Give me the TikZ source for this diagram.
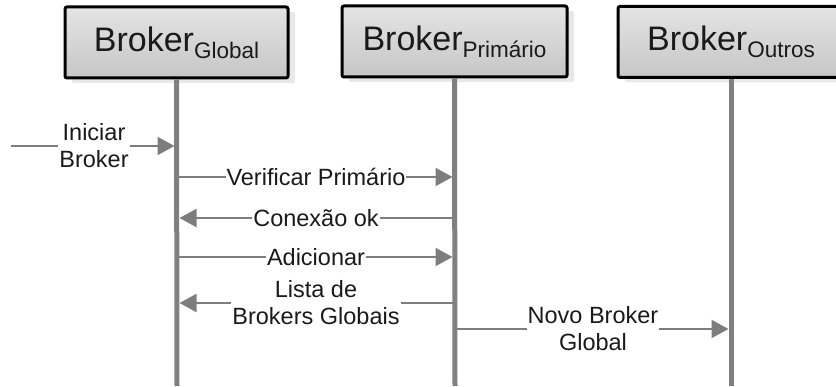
\documentclass[tikz,border=0pt]{standalone}
\usepackage{fontspec}
\setmainfont{Liberation Sans}
\usetikzlibrary{arrows.meta,shadows}
\definecolor{lifegray}{RGB}{128,128,128}
\definecolor{msggray}{RGB}{125,125,125}
\definecolor{boxtop}{RGB}{228,228,228}
\definecolor{boxbot}{RGB}{198,198,198}
\definecolor{shadowgray}{RGB}{232,232,232}
\definecolor{inkgray}{RGB}{26,26,26}
\tikzset{
  actor/.style={draw=black, line width=3pt, rounded corners=2pt,
    top color=boxtop, bottom color=boxbot,
    minimum height=71pt, inner sep=0pt, text=inkgray,
    drop shadow={shadow xshift=7pt, shadow yshift=-5pt, fill=shadowgray, opacity=1}},
  lifeline/.style={draw=lifegray, line width=5pt},
  msg/.style={draw=msggray, line width=2pt,
    -{Triangle[length=17pt,width=18pt]}, shorten >=2.5pt},
  msglabel/.style={fill=white, inner xsep=1pt, inner ysep=0pt, align=center,
    text=inkgray, font=\fontsize{23.5}{27}\selectfont}
}
\newcommand{\actorname}[1]{\fontsize{34}{38}\selectfont Broker\raisebox{-7pt}{\fontsize{22.5}{26}\selectfont #1}}
\begin{document}
\begin{tikzpicture}[x=1pt, y=-1pt]
  \useasboundingbox (0,0) rectangle (836,387);
  \fill[white] (0,0) rectangle (836,387);

  % participants
  \node[actor, minimum width=223pt] (gbl) at (176.5,42.5) {\actorname{Global}};
  \node[actor, minimum width=225pt] (pri) at (454.5,41.5) {\actorname{Primário}};
  \node[actor, minimum width=226pt] (out) at (731,42) {\actorname{Outros}};

  % lifeline ends
  \coordinate (gblEnd) at (177,386);
  \coordinate (priEnd) at (455,386);
  \coordinate (outEnd) at (731,386);

  % message anchor points on the lifelines
  \coordinate (start) at (11,146);
  \coordinate (g0) at (177,146);
  \coordinate (g1) at (177,177);  \coordinate (p1) at (455,177);
  \coordinate (g2) at (177,218);  \coordinate (p2) at (455,218);
  \coordinate (g3) at (177,257);  \coordinate (p3) at (455,257);
  \coordinate (g4) at (177,303);  \coordinate (p4) at (455,303);
  \coordinate (p5) at (455,329);  \coordinate (o5) at (731,329);

  % messages
  \draw[msg] (start) -- node[msglabel] {Iniciar\\Broker} (g0);
  \draw[msg] (g1) -- node[msglabel] {Verificar Primário} (p1);
  \draw[msg] (p2) -- node[msglabel] {Conexão ok} (g2);
  \draw[msg] (g3) -- node[msglabel] {Adicionar} (p3);
  \draw[msg] (p4) -- node[msglabel] {Lista de\\Brokers Globais} (g4);
  \draw[msg] (p5) -- node[msglabel] {Novo Broker\\Global} (o5);

  % lifelines
  \draw[lifeline] (gbl.south) -- (gblEnd);
  \draw[lifeline] (pri.south) -- (priEnd);
  \draw[lifeline] (out.south) -- (outEnd);
\end{tikzpicture}
\end{document}
